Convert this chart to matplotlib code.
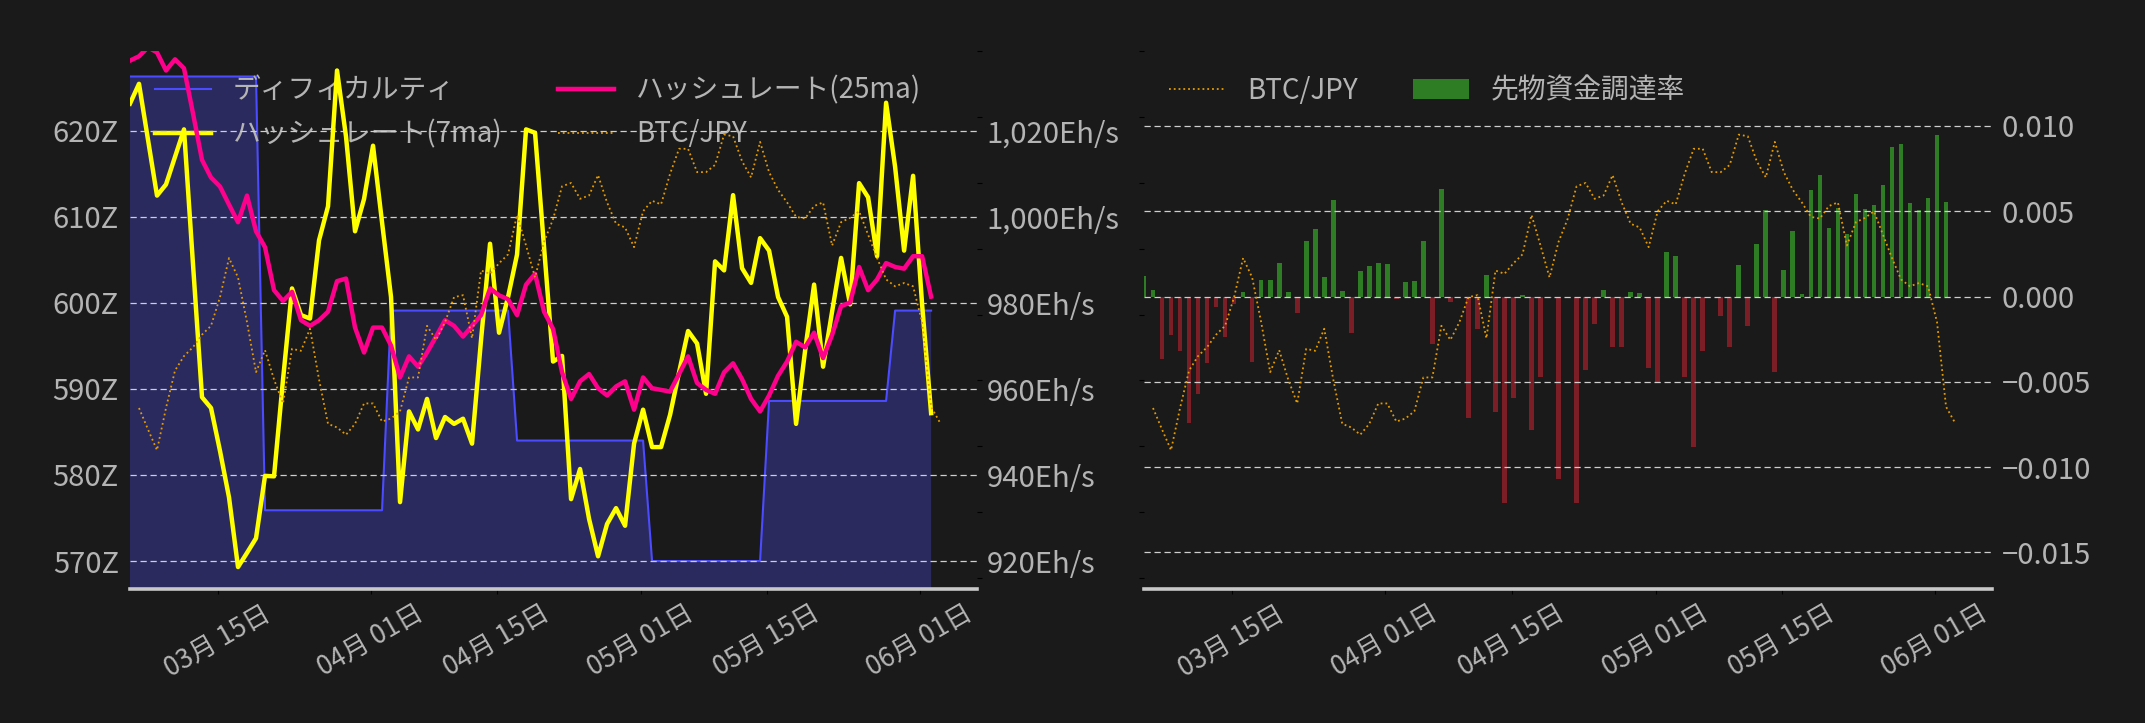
import matplotlib
matplotlib.use('Agg')
import matplotlib.pyplot as plt
import matplotlib.dates as mdates
from matplotlib.ticker import FuncFormatter, FixedLocator, NullFormatter
import pandas as pd

plt.rcParams['font.family'] = ['Noto Sans CJK JP', 'DejaVu Sans']

# ---------------- data ----------------
start = pd.Timestamp('2024-03-05 05:00')
dates = pd.date_range(start, periods=90, freq='D')
btc_dates = pd.date_range(start + pd.Timedelta(days=1), periods=90, freq='D')

difficulty_z = [
    626.3, 626.3, 626.3, 626.3, 626.3, 626.3, 626.3, 626.3, 626.3, 626.3,
    626.3, 626.3, 626.3, 626.3, 626.3, 575.9, 575.9, 575.9, 575.9, 575.9,
    575.9, 575.9, 575.9, 575.9, 575.9, 575.9, 575.9, 575.9, 575.9, 599.1,
    599.1, 599.1, 599.1, 599.1, 599.1, 599.1, 599.1, 599.1, 599.1, 599.1,
    599.1, 599.1, 599.1, 584.0, 584.0, 584.0, 584.0, 584.0, 584.0, 584.0,
    584.0, 584.0, 584.0, 584.0, 584.0, 584.0, 584.0, 584.0, 570.0, 570.0,
    570.0, 570.0, 570.0, 570.0, 570.0, 570.0, 570.0, 570.0, 570.0, 570.0,
    570.0, 588.6, 588.6, 588.6, 588.6, 588.6, 588.6, 588.6, 588.6, 588.6,
    588.6, 588.6, 588.6, 588.6, 588.6, 599.1, 599.1, 599.1, 599.1, 599.1,
]

hashrate_7ma = [
    1026.4, 1031.0, 1018.0, 1005.0, 1007.6, 1014.0, 1020.4, 989.0, 958.1, 955.6,
    945.6, 934.8, 918.6, 921.9, 925.3, 939.8, 939.7, 962.2, 983.4, 977.2,
    976.4, 994.6, 1002.5, 1034.1, 1018.7, 996.7, 1004.2, 1016.6, 998.8, 981.4,
    933.7, 954.8, 950.6, 957.7, 948.6, 953.5, 951.9, 953.1, 947.3, 971.4,
    993.8, 973.1, 981.4, 991.3, 1020.4, 1019.6, 993.0, 966.4, 967.7, 934.4,
    941.4, 929.8, 921.1, 928.6, 932.3, 928.2, 947.3, 955.2, 946.5, 946.5,
    954.0, 963.9, 973.5, 970.6, 958.9, 989.7, 987.6, 1005.1, 988.1, 984.7,
    995.1, 992.2, 981.4, 976.8, 951.9, 968.9, 984.3, 965.2, 978.0, 990.5,
    979.7, 1007.9, 1004.6, 990.9, 1026.6, 1011.7, 992.2, 1009.6, 979.7, 954.4,
]

hashrate_25ma = [
    1036.4, 1037.4, 1039.5, 1038.3, 1034.1, 1036.7, 1034.6, 1024.1, 1013.3, 1009.2,
    1007.1, 1002.9, 998.8, 1005.0, 996.7, 993.0, 983.0, 980.5, 982.6, 976.0,
    974.7, 976.0, 978.0, 985.1, 985.7, 974.3, 968.5, 974.3, 974.3, 970.1,
    962.7, 967.6, 965.2, 968.5, 972.2, 976.0, 974.7, 972.2, 974.7, 977.2,
    983.4, 981.8, 980.9, 977.2, 984.3, 986.8, 978.0, 974.0, 963.9, 957.7,
    961.8, 963.5, 960.2, 958.5, 960.6, 961.8, 955.2, 962.7, 960.2, 959.8,
    959.4, 963.5, 967.6, 961.4, 959.8, 958.9, 963.9, 966.0, 962.3, 957.7,
    954.8, 958.5, 963.1, 966.4, 971.0, 969.7, 973.1, 967.2, 972.6, 979.3,
    980.1, 988.4, 983.0, 985.5, 989.3, 988.4, 988.0, 990.9, 990.9, 981.5,
]

btc_jpy = [
    10116000, 10051000, 9988000, 10116000, 10230000, 10274000, 10301000, 10339000, 10366000, 10453000,
    10572000, 10513000, 10377000, 10225000, 10292000, 10203000, 10130000, 10296000, 10290000, 10357000,
    10203000, 10068000, 10057000, 10035000, 10068000, 10130000, 10130000, 10075000, 10084000, 10106000,
    10209000, 10209000, 10366000, 10323000, 10377000, 10453000, 10459000, 10328000, 10534000, 10524000,
    10556000, 10583000, 10703000, 10610000, 10513000, 10621000, 10690000, 10790000, 10800000, 10752000,
    10762000, 10824000, 10741000, 10676000, 10665000, 10605000, 10714000, 10746000, 10735000, 10828000,
    10904000, 10904000, 10833000, 10833000, 10855000, 10947000, 10942000, 10866000, 10817000, 10925000,
    10833000, 10779000, 10741000, 10697000, 10692000, 10730000, 10741000, 10610000, 10681000, 10694000,
    10714000, 10643000, 10572000, 10507000, 10486000, 10496000, 10486000, 10377000, 10120000, 10071000,
]

funding_rate = [
    0.00122, 0.00038, -0.00368, -0.00227, -0.00321, -0.00743, -0.00573, -0.00391, -0.00063, -0.00239,
    -0.00042, 0.00025, -0.00386, 0.00097, 0.00097, 0.00197, 0.00025, -0.00097, 0.00326, 0.00397,
    0.00113, 0.00567, 0.00032, -0.00214, 0.00149, 0.00179, 0.00197, 0.00191, -0.00013, 0.00084,
    0.00090, 0.00326, -0.00279, 0.00632, -0.00034, -0.00005, -0.00712, -0.00189, 0.00126, -0.00680,
    -0.01208, -0.00594, 0.00008, -0.00783, -0.00473, -0.00006, -0.01071, -0.00004, -0.01212, -0.00431,
    -0.00162, 0.00038, -0.00298, -0.00294, 0.00025, 0.00021, -0.00418, -0.00504, 0.00260, 0.00237,
    -0.00473, -0.00882, -0.00319, 0.00000, -0.00113, -0.00298, 0.00185, -0.00172, 0.00309, 0.00506,
    -0.00443, 0.00155, 0.00384, 0.00015, 0.00626, 0.00714, 0.00403, 0.00521, 0.00368, 0.00603,
    0.00515, 0.00538, 0.00655, 0.00874, 0.00897, 0.00550, 0.00506, 0.00580, 0.00949, 0.00554,
]

difficulty_ticks = [570, 580, 590, 600, 610, 620]
hashrate_ticks = [920, 940, 960, 980, 1000, 1020]
btc_ticks = [9600000, 9800000, 10000000, 10200000, 10400000, 10600000, 10800000, 11000000, 11200000]
funding_ticks = [-0.015, -0.010, -0.005, 0.000, 0.005, 0.010]

labels_left = ['ディフィカルティ', 'ハッシュレート(7ma)', 'ハッシュレート(25ma)', 'BTC/JPY']
labels_right = ['BTC/JPY', '先物資金調達率']

# ---------------- style ----------------
BG = '#1a1a1a'
TXT = '#b4b4b4'
GRID = '#cfcfcf'
C_DIFF = '#4b4bff'
C_FILL = '#2a2a5f'
C_7MA = '#ffff00'
C_25MA = '#ff008c'
C_BTC = '#e69b00'
C_POS = '#2e7d25'
C_NEG = '#7b1e26'

fig = plt.figure(figsize=(21.45, 7.23), dpi=100, facecolor=BG)

x0 = mdates.date2num(start)
xlim = (x0, x0 + 94.1)


def style_common(ax):
    for s in ax.spines.values():
        s.set_visible(False)


def style_xaxis(ax):
    ax.spines['bottom'].set_visible(True)
    ax.spines['bottom'].set_color('#c8c8c8')
    ax.spines['bottom'].set_linewidth(2.6)
    ax.xaxis.set_major_locator(mdates.DayLocator(bymonthday=[1, 15]))
    ax.xaxis.set_major_formatter(mdates.DateFormatter('%m月 %d日'))
    ax.tick_params(axis='x', length=3.5, width=0.8, color='black',
                   labelcolor=TXT, labelsize=19, pad=5)
    for lab in ax.get_xticklabels():
        lab.set_rotation(30)
        lab.set_ha('center')
    ax.set_xlim(*xlim)


# ---------------- left panel ----------------
axL = fig.add_axes([130 / 2145, 1 - 589 / 723, 847 / 2145, 538.5 / 723])
axL.set_facecolor(BG)
style_common(axL)
l_diff, = axL.plot(dates, difficulty_z, color=C_DIFF, lw=1.5)
axL.fill_between(dates, difficulty_z, 0, color=C_FILL, lw=0)
axL.set_ylim(566.75, 629.32)
axL.yaxis.set_major_locator(FixedLocator(difficulty_ticks))
axL.yaxis.set_major_formatter(FuncFormatter(lambda v, p: f'{v:.0f}Z'))
axL.tick_params(axis='y', length=0, pad=8, labelcolor=TXT, labelsize=21)
style_xaxis(axL)

axH = axL.twinx()
style_common(axH)
l_7, = axH.plot(dates, hashrate_7ma, color=C_7MA, lw=3.2)
l_25, = axH.plot(dates, hashrate_25ma, color=C_25MA, lw=3.2)
axH.set_ylim(913.49, 1038.75)
axH.yaxis.set_major_locator(FixedLocator(hashrate_ticks))
axH.yaxis.set_major_formatter(FuncFormatter(lambda v, p: f'{v:,.0f}Eh/s'))
axH.tick_params(axis='y', length=0, pad=7, labelcolor=TXT, labelsize=21)
axH.yaxis.grid(True, color=GRID, lw=0.9, ls=(0, (5, 3)))

axB = axL.twinx()
style_common(axB)
l_btc, = axB.plot(btc_dates, btc_jpy, color=C_BTC, lw=1.3, ls=':')
axB.set_ylim(9566000, 11202700)
axB.yaxis.set_major_locator(FixedLocator(btc_ticks))
axB.yaxis.set_major_formatter(NullFormatter())
axB.tick_params(axis='y', length=3.5, width=0.8, color='black')
axB.set_xlim(*xlim)
axH.set_xlim(*xlim)

axL.legend([l_diff, l_7, l_25, l_btc], labels_left, loc='upper left', ncol=2,
           frameon=False, fontsize=20, labelcolor=TXT)

# ---------------- right panel ----------------
axR = fig.add_axes([1144 / 2145, 1 - 589 / 723, 848 / 2145, 538.5 / 723])
axR.set_facecolor(BG)
style_common(axR)
axRB = axR.twinx()
style_common(axRB)
axR.yaxis.tick_right()

bar_colors = [C_POS if v >= 0 else C_NEG for v in funding_rate]
bars = axR.bar(dates, funding_rate, width=0.52, color=bar_colors)
axR.set_ylim(-0.01715, 0.014426)
axR.yaxis.set_major_locator(FixedLocator(funding_ticks))
axR.tick_params(axis='y', length=0, pad=7, labelcolor=TXT, labelsize=21)
axR.yaxis.grid(True, color=GRID, lw=0.9, ls=(0, (5, 3)))
style_xaxis(axR)

r_btc, = axRB.plot(btc_dates, btc_jpy, color=C_BTC, lw=1.3, ls=':')
axRB.set_ylim(9566000, 11202700)
axRB.yaxis.set_ticks_position('left')
axRB.yaxis.set_major_locator(FixedLocator(btc_ticks))
axRB.yaxis.set_major_formatter(NullFormatter())
axRB.tick_params(axis='y', length=3.5, width=0.8, color='black')
axRB.set_xlim(*xlim)

axRB.legend([r_btc, bars.patches[0]], labels_right, loc='upper left', ncol=2,
            frameon=False, fontsize=20, labelcolor=TXT)

fig.savefig('out.png', dpi=100, facecolor=BG)
